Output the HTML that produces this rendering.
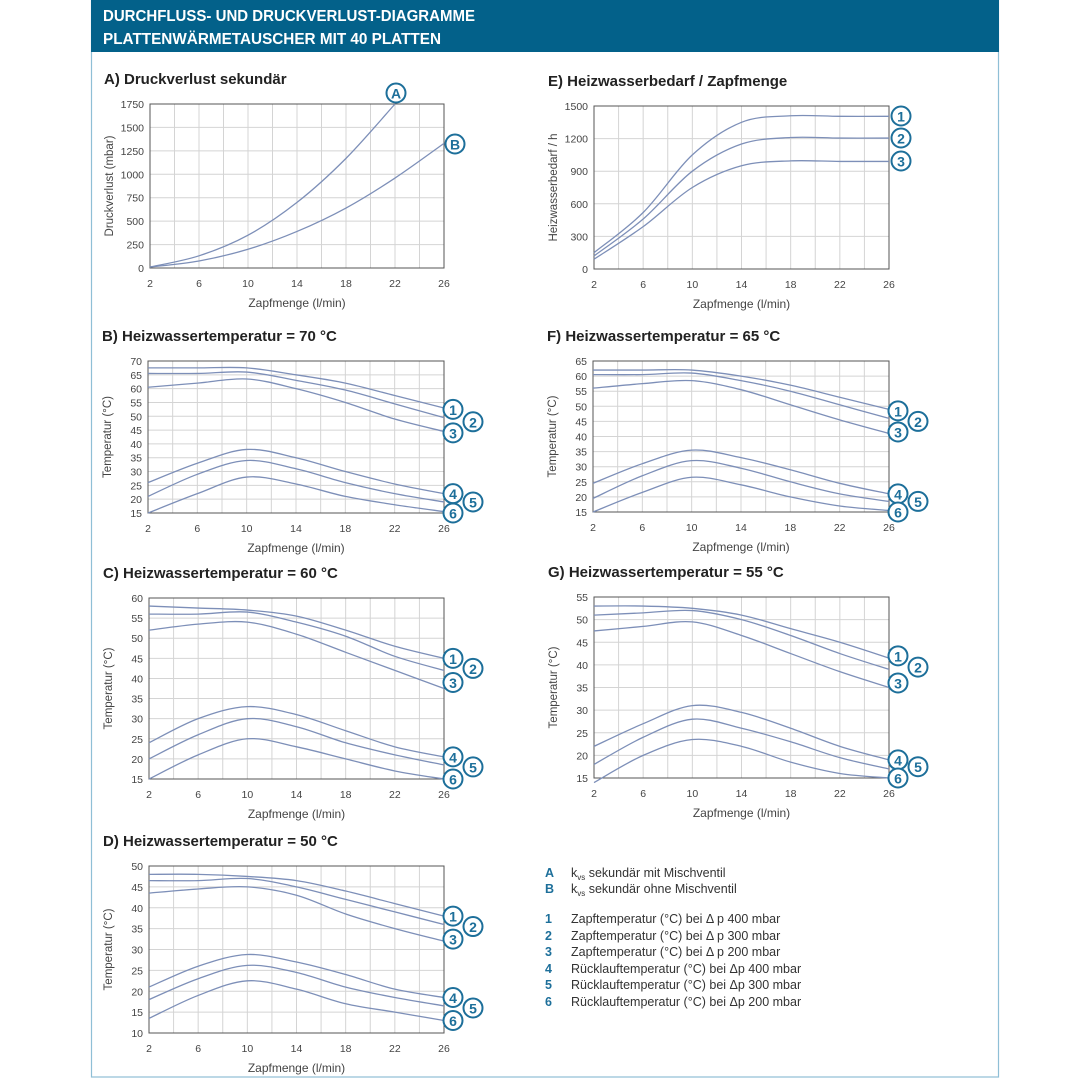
<!DOCTYPE html>
<html><head><meta charset="utf-8">
<style>
html,body{margin:0;padding:0;background:#fff;}
body{width:1080px;height:1080px;overflow:hidden;font-family:"Liberation Sans",sans-serif;}
</style></head>
<body>
<svg id="s" width="1080" height="1080" xmlns="http://www.w3.org/2000/svg" font-family="Liberation Sans, sans-serif">
<rect x="91.5" y="0" width="907" height="1077" fill="none" stroke="#8fbfd6" stroke-width="1.2"/>
<rect x="91" y="0" width="908" height="52" fill="#03618a"/>
<text x="103" y="21" fill="#fff" font-size="16" font-weight="bold" textLength="372" lengthAdjust="spacingAndGlyphs">DURCHFLUSS- UND DRUCKVERLUST-DIAGRAMME</text>
<text x="103" y="44" fill="#fff" font-size="16" font-weight="bold" textLength="338" lengthAdjust="spacingAndGlyphs">PLATTENWÄRMETAUSCHER MIT 40 PLATTEN</text>
<g id="g"></g>
<g font-size="12.5" fill="#333">
<text x="545" y="877" fill="#1d6f9a" font-weight="bold">A</text><text x="571" y="877">k<tspan font-size="8" dy="3">vs</tspan><tspan dy="-3"> sekundär mit Mischventil</tspan></text>
<text x="545" y="893" fill="#1d6f9a" font-weight="bold">B</text><text x="571" y="893">k<tspan font-size="8" dy="3">vs</tspan><tspan dy="-3"> sekundär ohne Mischventil</tspan></text>
<text x="545" y="923" fill="#1d6f9a" font-weight="bold">1</text><text x="571" y="923">Zapftemperatur (°C) bei Δ p 400 mbar</text>
<text x="545" y="940" fill="#1d6f9a" font-weight="bold">2</text><text x="571" y="940">Zapftemperatur (°C) bei Δ p 300 mbar</text>
<text x="545" y="956" fill="#1d6f9a" font-weight="bold">3</text><text x="571" y="956">Zapftemperatur (°C) bei Δ p 200 mbar</text>
<text x="545" y="973" fill="#1d6f9a" font-weight="bold">4</text><text x="571" y="973">Rücklauftemperatur (°C) bei Δp 400 mbar</text>
<text x="545" y="989" fill="#1d6f9a" font-weight="bold">5</text><text x="571" y="989">Rücklauftemperatur (°C) bei Δp 300 mbar</text>
<text x="545" y="1006" fill="#1d6f9a" font-weight="bold">6</text><text x="571" y="1006">Rücklauftemperatur (°C) bei Δp 200 mbar</text>
</g>
</svg>
<script>
const NS="http://www.w3.org/2000/svg",G=document.getElementById('g');
function el(t,a,txt){const e=document.createElementNS(NS,t);for(const k in a)e.setAttribute(k,a[k]);if(txt!==undefined)e.textContent=txt;G.appendChild(e);return e;}
function cr(p){let d="M"+p[0][0]+","+p[0][1];for(let i=0;i<p.length-1;i++){const p0=p[i-1]||p[i],p1=p[i],p2=p[i+1],p3=p[i+2]||p2;
d+=" C"+(p1[0]+(p2[0]-p0[0])/6)+","+(p1[1]+(p2[1]-p0[1])/6)+" "+(p2[0]-(p3[0]-p1[0])/6)+","+(p2[1]-(p3[1]-p1[1])/6)+" "+p2[0]+","+p2[1];}return d;}
function chart(c){
 const {L,R,T,B,ymin,ymax,ystep,title,ylab,ygrid}=c;
 const X=v=>L+(v-2)/24*(R-L),Y=v=>B-(v-ymin)/(ymax-ymin)*(B-T);
 el('text',{x:L-46,y:T-20,'font-size':15,'font-weight':'bold',fill:'#222'},title);
 for(let v=2;v<=26;v+=2){el('line',{x1:X(v),x2:X(v),y1:T,y2:B,stroke:'#d4d4d4','stroke-width':1});}
 const gs=ygrid||ystep;
 for(let v=ymin;v<=ymax+0.01;v+=gs){el('line',{x1:L,x2:R,y1:Y(v),y2:Y(v),stroke:'#d4d4d4','stroke-width':1});}
 el('rect',{x:L,y:T,width:R-L,height:B-T,fill:'none',stroke:'#555','stroke-width':1});
 for(let v=ymin;v<=ymax+0.01;v+=ystep)el('text',{x:L-6,y:Y(v)+4,'font-size':10.5,fill:'#444','text-anchor':'end'},v);
 for(let v=2;v<=26;v+=4)el('text',{x:X(v),y:B+19,'font-size':10.5,fill:'#444','text-anchor':'middle'},v);
 el('text',{x:(L+R)/2,y:B+39,'font-size':12,fill:'#444','text-anchor':'middle'},'Zapfmenge (l/min)');
 el('text',{x:0,y:0,'font-size':11.5,fill:'#444','text-anchor':'middle',transform:`translate(${L-37},${(T+B)/2}) rotate(-90)`},ylab);
 c.s.forEach((s,i)=>{const xs=s.x||[2,6,10,14,18,22,26];el('path',{d:cr(xs.map((x,j)=>[X(x),Y(s.v[j])])),fill:'none',stroke:'#7d8fb8','stroke-width':1.3});});
 c.lab.forEach(l=>{const cx=l.abs?l.x:R+l.dx,cy=l.abs?l.y:Y(l.v)+(l.dy||0);
  el('circle',{cx:cx,cy:cy,r:9.5,fill:'#fff',stroke:'#1d6f9a','stroke-width':2});
  el('text',{x:cx,y:cy+5.5,'font-size':14,'font-weight':'bold',fill:'#1d6f9a','text-anchor':'middle'},l.t);});
}
function tl(v){const e=[];[9,29,9,9,29,9].forEach((o,i)=>e.push({t:String(i+1),dx:o,v:v[i]}));return e;}
function T6(ymin,ymax,ystep,L,R,T,B,title,s,lv){chart({L,R,T,B,ymin,ymax,ystep,title,ylab:'Temperatur (°C)',s:s.map(v=>({v})),lab:tl(lv)});}
chart({L:150,R:444,T:104,B:268,ymin:0,ymax:1750,ystep:250,title:'A) Druckverlust sekundär',ylab:'Druckverlust (mbar)',
 s:[{x:[2,6,10,14,18,22],v:[10,130,350,700,1170,1750]},{v:[10,75,200,390,640,960,1330]}],
 lab:[{t:'A',abs:1,x:396,y:93},{t:'B',abs:1,x:455,y:144}]});
chart({L:594,R:889,T:106,B:269,ymin:0,ymax:1500,ystep:300,title:'E) Heizwasserbedarf / Zapfmenge',ylab:'Heizwasserbedarf / h',
 s:[{v:[150,520,1050,1350,1410,1405,1405]},{v:[120,460,900,1150,1210,1205,1205]},{v:[90,390,750,950,995,990,990]}],
 lab:[{t:'1',abs:1,x:901,y:116},{t:'2',abs:1,x:901,y:138},{t:'3',abs:1,x:901,y:161}]});
T6(15,70,5,148,444,361,513,'B) Heizwassertemperatur = 70 °C',
 [[67.5,67.5,67.5,65,62,57.5,53],[65.5,65.5,66,63,59.5,54.5,49.5],[60.5,62,63.5,60,55,49,44.5],[26,33,38,35,30,25.5,22],[21,29,34,31,26,22,19],[15,22,28,25.5,21,18,15.5]],
 [52.5,48,44,22,19,15]);
T6(15,65,5,593,889,361,512,'F) Heizwassertemperatur = 65 °C',
 [[62,62,62,60,57,53,49],[60.5,60.5,61,58.5,55,50.5,46],[56,57.5,58.5,55.5,50.5,45.5,41],[24.5,31,35.5,33,29,24.5,21],[19.5,27,32,29.5,25,21,18.5],[15,21.5,26.5,24,20,17,15.5]],
 [48.5,45,41.5,21,18.5,15]);
T6(15,60,5,149,444,598,779,'C) Heizwassertemperatur = 60 °C',
 [[58,57.5,57,55.5,52,48,45],[56,56,56.5,54,50.5,45.5,42],[52,53.5,54,51,46.5,42,37.5],[24,30,33,31,27,23,20.5],[20,26,30,28,24,21,18.5],[15,21,25,23,20,17,15]],
 [45,42.5,39,20.5,18,15]);
T6(15,55,5,594,889,597,778,'G) Heizwassertemperatur = 55 °C',
 [[53,53,52.5,51,48,45,41.5],[51,51.5,52,50,46.5,42.5,39],[47.5,48.5,49.5,46.5,42.5,38.5,35],[22,27,31,29.5,26,22,19],[18,24,28,26,23,19.5,17],[14,20,23.5,22,18.5,16,15]],
 [42,39.5,36,19,17.5,15]);
T6(10,50,5,149,444,866,1033,'D) Heizwassertemperatur = 50 °C',
 [[48,48,47.5,46.5,44,41,38],[46.5,46.5,47,45,42,39,36],[43.5,44.5,45,43,38.5,35,32],[21,26,28.8,27,24,20.5,18.5],[18,23,26.2,24.5,21,18.5,16.5],[13.5,19,22.5,20.5,17,15,13]],
 [38,35.5,32.5,18.5,16,13]);
</script>
</body></html>
